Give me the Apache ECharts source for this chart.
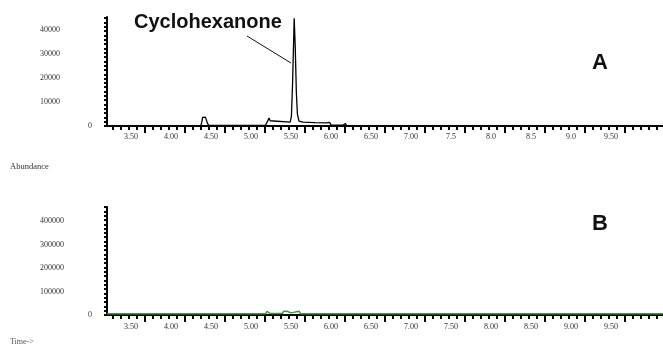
<!DOCTYPE html>
<html><head><meta charset="utf-8">
<script src="https://cdn.jsdelivr.net/npm/echarts@6/dist/echarts.min.js"></script>
<style>html,body{margin:0;padding:0;background:#fff}#c{width:663px;height:345px}</style>
</head><body><div id="c"></div>
<script>
// ---- data ----
const timeMin = 3.2, timeMax = 10.15;
const labelValues = [3.5, 4.0, 4.5, 5.0, 5.5, 6.0, 6.5, 7.0, 7.5, 8.0, 8.5, 9.0, 9.5];
const topTickLabels = ['3.50','4.00','4.50','5.00','5.50','6.00','6.50','7.00','7.5','8.0','8.5','9.0','9.50'];
const bottomTickLabels = ['3.50','4.00','4.50','5.00','5.50','6.00','6.50','7.00','7.50','8.00','8.50','9.00','9.50'];
const topYLabels = [0, 10000, 20000, 30000, 40000];
const bottomYLabels = [0, 100000, 200000, 300000, 400000];
const seriesATime = [3.2, 4.37, 4.385, 4.395, 4.405, 4.43, 4.44, 4.455, 4.47, 5.18, 5.205, 5.225, 5.24, 5.26, 5.49, 5.505, 5.52, 5.54, 5.553, 5.567, 5.58, 5.60, 5.65, 5.8, 5.94, 5.955, 5.985, 6.0, 6.15, 6.16, 6.18, 6.2, 10.15];
const seriesAValue = [0, 0, 1500, 3600, 3800, 3700, 3400, 1200, 300, 300, 1800, 3300, 2200, 1600, 1600, 4000, 18000, 45000, 33000, 14000, 5000, 2000, 1600, 1400, 1300, 1500, 1500, 400, 400, 1000, 1000, 0, 0];
const seriesBTime = [3.2, 5.18, 5.20, 5.225, 5.24, 5.39, 5.41, 5.45, 5.47, 5.50, 5.52, 5.60, 5.62, 10.15];
const seriesBValue = [5000, 5000, 15000, 15000, 6000, 6000, 16000, 16000, 9000, 9000, 16000, 16000, 5000, 5000];

// axis decoration ticks
const majorTicks = [], minorTicks = [];
for (let i = 0; i < 70; i++) { const v = +(3.275 + i * 0.1).toFixed(3); if (v <= timeMax) minorTicks.push(v); }
for (let i = 0; i < 14; i++) { const v = +(3.675 + i * 0.5).toFixed(3); if (v <= timeMax) majorTicks.push(v); }
const topYTicks = [], bottomYTicks = [];
for (let v = 0; v <= 45500; v += 1800) topYTicks.push(v);
for (let v = 0; v <= 460000; v += 18400) bottomYTicks.push(v);

const lblFont = {fontFamily: 'Liberation Serif', fontSize: 8, color: '#333'};

function xAxesFor(gridIndex, labels, margin) {
  return [
    {type: 'value', gridIndex, min: timeMin, max: timeMax, position: 'bottom',
     axisLine: {show: true, onZero: false, lineStyle: {color: '#000', width: 2}},
     axisTick: {show: true, customValues: majorTicks, length: 7, inside: false, lineStyle: {color: '#000', width: 2}},
     axisLabel: Object.assign({show: true, customValues: labelValues, margin: margin,
        formatter: v => { const i = labelValues.findIndex(x => Math.abs(x - v) < 1e-6); return i >= 0 ? labels[i] : ''; }}, lblFont),
     splitLine: {show: false}},
    {type: 'value', gridIndex, min: timeMin, max: timeMax, position: 'bottom',
     axisLine: {show: false},
     axisTick: {show: true, customValues: minorTicks, length: 4, lineStyle: {color: '#000', width: 2}},
     axisLabel: {show: false}, splitLine: {show: false}}
  ];
}
function yAxisFor(gridIndex, max, labels, ticks) {
  return {type: 'value', gridIndex, min: 0, max: max,
    axisLine: {show: true, lineStyle: {color: '#000', width: 2}},
    axisTick: {show: true, customValues: ticks, length: 3, lineStyle: {color: '#000', width: 2}},
    axisLabel: Object.assign({show: true, customValues: labels, margin: 67, align: 'left',
      formatter: v => v === 0 ? '{z|0}' : String(v),
      rich: {z: {padding: [0, 0, 0, 48], fontFamily: 'Liberation Serif', fontSize: 8, color: '#333'}}}, lblFont),
    splitLine: {show: false}};
}

const chart = echarts.init(document.getElementById('c'), null, {renderer: 'canvas'});
chart.setOption({
  animation: false,
  backgroundColor: '#fff',
  grid: [
    {left: 107, top: 17, right: 0, bottom: 219, containLabel: false},
    {left: 107, top: 207, right: 0, bottom: 30, containLabel: false}
  ],
  xAxis: xAxesFor(0, topTickLabels, 7).concat(xAxesFor(1, bottomTickLabels, 8)),
  yAxis: [yAxisFor(0, 45500, topYLabels, topYTicks), yAxisFor(1, 460000, bottomYLabels, bottomYTicks)],
  series: [
    {type: 'line', xAxisIndex: 0, yAxisIndex: 0, showSymbol: false, symbol: 'none',
     data: seriesATime.map((t, i) => [t, seriesAValue[i]]), lineStyle: {color: '#000', width: 1.3}},
    {type: 'line', xAxisIndex: 2, yAxisIndex: 1, showSymbol: false, symbol: 'none',
     data: seriesBTime.map((t, i) => [t, seriesBValue[i]]), lineStyle: {color: '#3c9a3c', width: 1.5}}
  ],
  graphic: [
    {type: 'text', left: 134, top: 12, style: {text: 'Cyclohexanone', font: 'bold 20px "Liberation Sans"', fill: '#111'}},
    {type: 'line', shape: {x1: 247, y1: 36, x2: 291, y2: 63}, style: {stroke: '#111', lineWidth: 1}},
    {type: 'text', left: 592, top: 52, style: {text: 'A', font: 'bold 22px "Liberation Sans"', fill: '#111'}},
    {type: 'text', left: 592, top: 213, style: {text: 'B', font: 'bold 22px "Liberation Sans"', fill: '#111'}},
    {type: 'text', left: 10, top: 162, style: {text: 'Abundance', font: '8.5px "Liberation Serif"', fill: '#333'}},
    {type: 'text', left: 10, top: 338, style: {text: 'Time->', font: '8px "Liberation Serif"', fill: '#555'}}
  ]
});
</script></body></html>
